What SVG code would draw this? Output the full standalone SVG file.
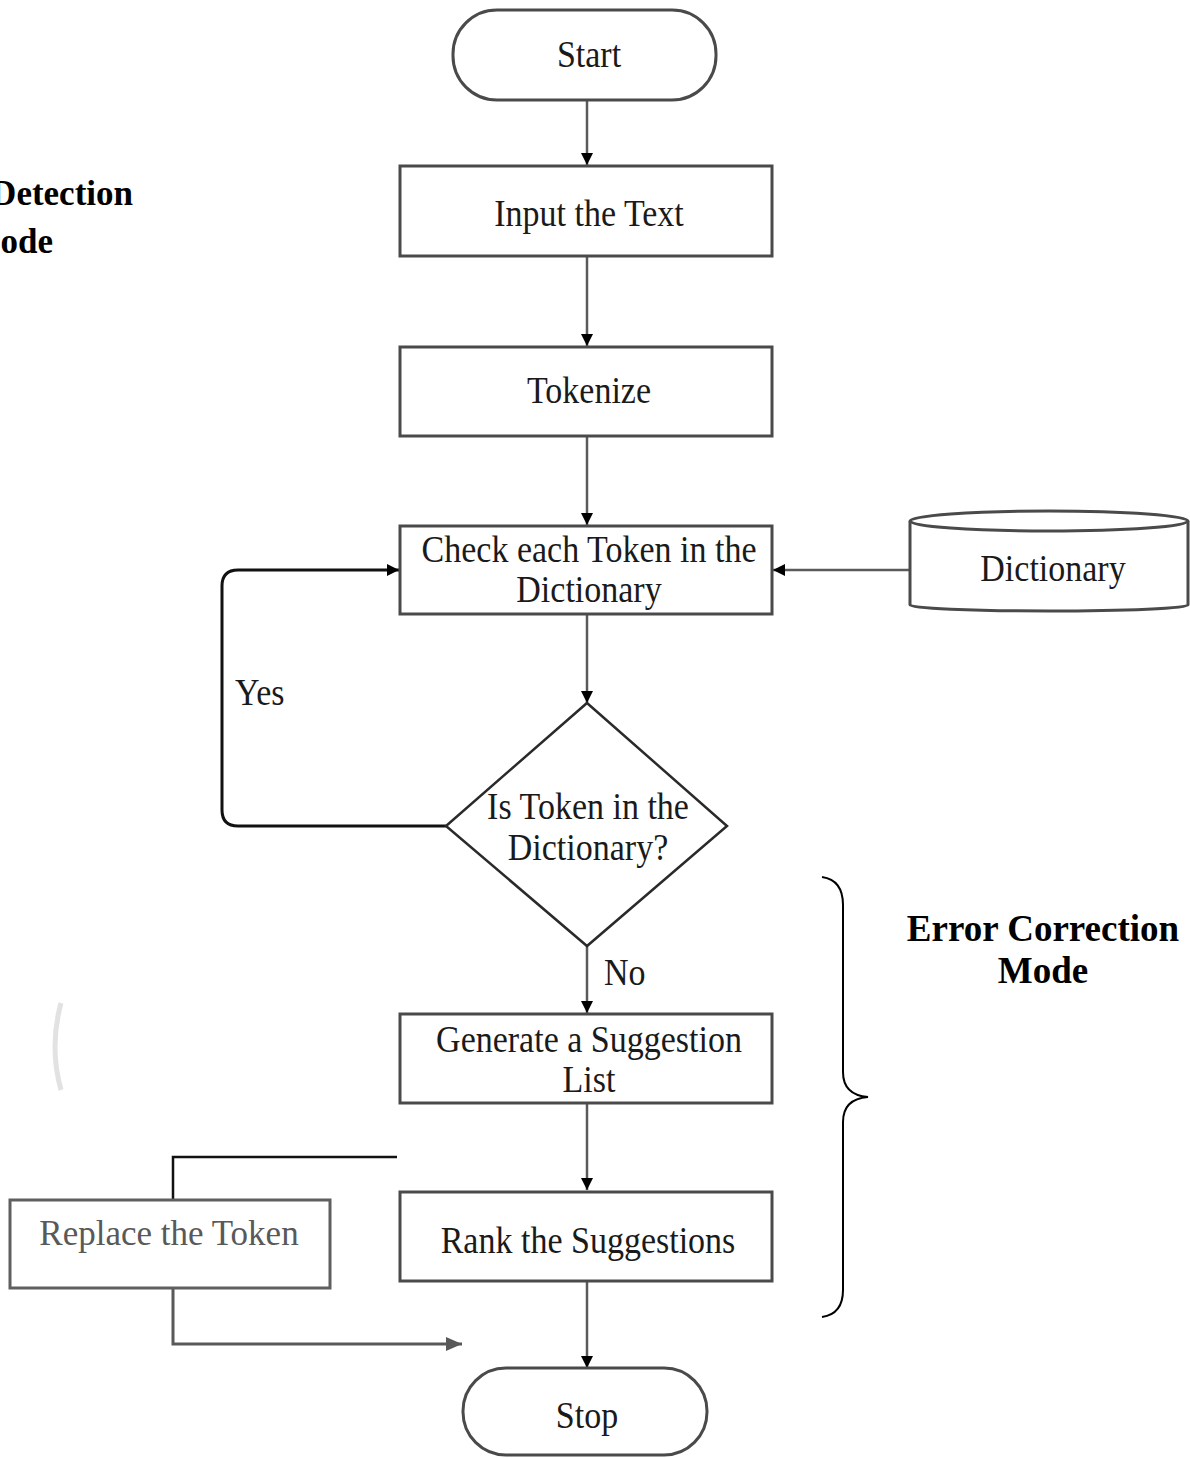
<svg xmlns="http://www.w3.org/2000/svg" width="1190" height="1458" viewBox="0 0 1190 1458">
<style>
.box{fill:#fff;stroke:#4a4a4a;stroke-width:3}
.t{font-family:"Liberation Serif","Times New Roman",serif;font-size:34px;fill:#1a1a1a;text-anchor:middle}
.b{font-family:"Liberation Serif","Times New Roman",serif;font-size:37px;font-weight:bold;fill:#000}
.ln{fill:none;stroke:#5a5a5a;stroke-width:2.5}
.blk{fill:none;stroke:#111;stroke-width:3}
.gr{fill:none;stroke:#595959;stroke-width:3}
</style>
<defs>
<marker id="ah" markerWidth="12" markerHeight="12" refX="12" refY="6" orient="auto" markerUnits="userSpaceOnUse">
<path d="M0,0 L12,6 L0,12 Z" fill="#000"/>
</marker>
<marker id="ahg" markerWidth="16" markerHeight="16" refX="16" refY="8" orient="auto" markerUnits="userSpaceOnUse">
<path d="M0,1 L16,8 L0,15 Z" fill="#595959"/>
</marker>
</defs>
<rect width="1190" height="1458" fill="#fff"/>

<g id="connectors">
<line class="ln" x1="587" y1="100" x2="587" y2="165" marker-end="url(#ah)"/>
<line class="ln" x1="587" y1="256" x2="587" y2="346" marker-end="url(#ah)"/>
<line class="ln" x1="587" y1="436" x2="587" y2="525" marker-end="url(#ah)"/>
<line class="ln" x1="910" y1="570" x2="773" y2="570" marker-end="url(#ah)"/>
<line class="ln" x1="587" y1="614" x2="587" y2="703" marker-end="url(#ah)"/>
<path class="blk" d="M446,826 H238 Q222,826 222,810 V586 Q222,570 238,570 H399" marker-end="url(#ah)"/>
<line class="ln" x1="587" y1="946" x2="587" y2="1013" marker-end="url(#ah)"/>
<line class="ln" x1="587" y1="1103" x2="587" y2="1190" marker-end="url(#ah)"/>
<line class="ln" x1="587" y1="1281" x2="587" y2="1368" marker-end="url(#ah)"/>
<path d="M173,1200 V1157 H397" fill="none" stroke="#111" stroke-width="2.5"/>
<path class="gr" d="M173,1288 V1344 H462" marker-end="url(#ahg)"/>
</g>

<g id="start">
<rect class="box" x="453" y="10" width="263" height="90" rx="44" ry="44"/>
<text class="t" transform="translate(589,67) scale(1,1.1)">Start</text>
</g>
<g id="input">
<rect class="box" x="400" y="166" width="372" height="90"/>
<text class="t" transform="translate(589,226) scale(1,1.1)">Input the Text</text>
</g>
<g id="tokenize">
<rect class="box" x="400" y="347" width="372" height="89"/>
<text class="t" transform="translate(589,403) scale(1,1.1)">Tokenize</text>
</g>
<g id="check">
<rect class="box" x="400" y="526" width="372" height="88"/>
<text class="t" transform="translate(589,562) scale(1,1.1)">Check each Token in the</text>
<text class="t" transform="translate(589,602) scale(1,1.1)">Dictionary</text>
</g>
<g id="dictionary">
<path class="box" d="M910,521 V605 A139,6 0 0 0 1188,605 V521"/>
<ellipse class="box" cx="1049" cy="521" rx="139" ry="10"/>
<text class="t" transform="translate(1053,581) scale(1,1.1)">Dictionary</text>
</g>
<g id="decision">
<polygon points="587,703 727,826 587,946 446,826" fill="#fff" stroke="#2a2a2a" stroke-width="2.5"/>
<text class="t" transform="translate(588,819) scale(1,1.1)">Is Token in the</text>
<text class="t" transform="translate(588,860) scale(1,1.1)">Dictionary?</text>
</g>
<g id="yes-label">
<text class="t" style="text-anchor:start" transform="translate(235,705) scale(1,1.1)">Yes</text>
</g>
<g id="no-label">
<text class="t" style="text-anchor:start" transform="translate(604,985) scale(1,1.1)">No</text>
</g>
<g id="generate">
<rect class="box" x="400" y="1014" width="372" height="89"/>
<text class="t" transform="translate(589,1052) scale(1,1.1)">Generate a Suggestion</text>
<text class="t" transform="translate(589,1092) scale(1,1.1)">List</text>
</g>
<g id="rank">
<rect class="box" x="400" y="1192" width="372" height="89"/>
<text class="t" transform="translate(588,1253) scale(1,1.1)">Rank the Suggestions</text>
</g>
<g id="stop">
<rect class="box" x="463" y="1368" width="244" height="87" rx="43" ry="43"/>
<text class="t" transform="translate(587,1428) scale(1,1.1)">Stop</text>
</g>
<g id="replace">
<rect x="10" y="1200" width="320" height="88" fill="#fff" stroke="#5f5f5f" stroke-width="3"/>
<text class="t" style="fill:#595959;font-size:35px" x="169" y="1245">Replace the Token</text>
</g>
<g id="error-correction">
<path d="M822,877 Q843,880 843,905 V1072 Q843,1095 868,1097 Q843,1099 843,1122 V1290 Q843,1314 822,1317" fill="none" stroke="#000" stroke-width="2"/>
<text class="b" text-anchor="middle" x="1043" y="941">Error Correction</text>
<text class="b" text-anchor="middle" x="1043" y="983">Mode</text>
</g>
<g id="error-detection">
<text class="b" style="font-size:35px" text-anchor="end" x="133" y="205">Detection</text>
<text class="b" style="font-size:35px" text-anchor="end" x="53" y="253">ode</text>
</g>
<path d="M61,1003 Q49,1047 61,1090" fill="none" stroke="#e2e2e2" stroke-width="5"/>
</svg>
